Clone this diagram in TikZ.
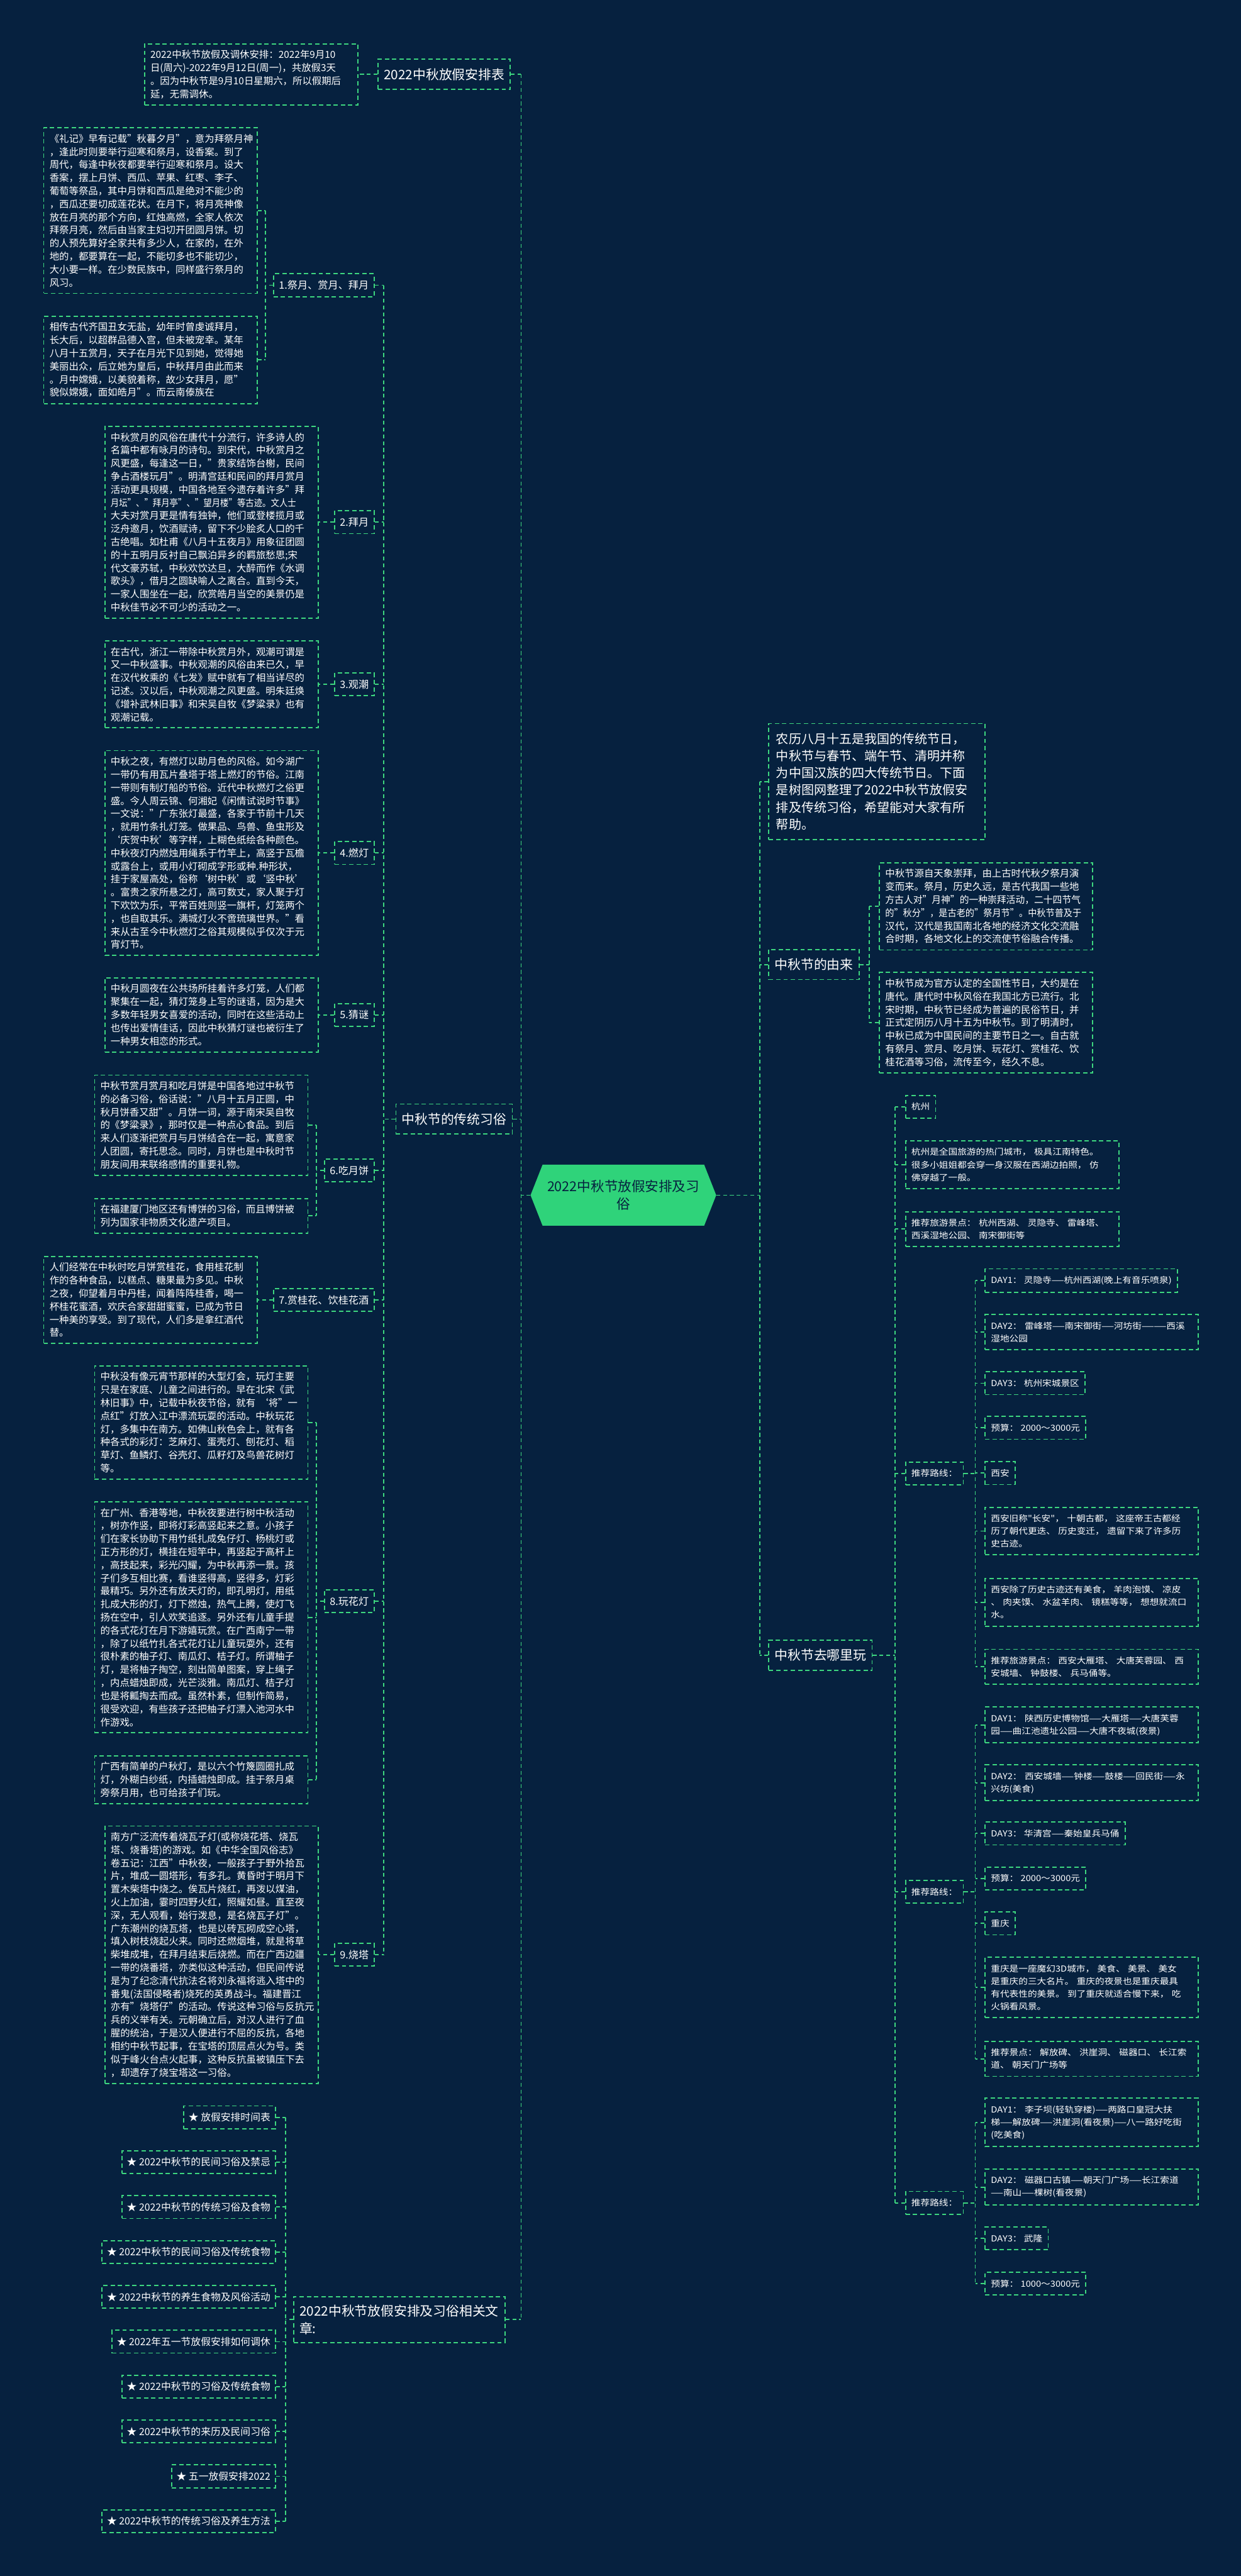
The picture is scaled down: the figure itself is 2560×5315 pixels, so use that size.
\documentclass[tikz,border=0pt]{standalone}
\usepackage{fontspec}
\usepackage{graphicx}
\setmainfont{Noto Sans CJK SC}
\newfontfamily\widecjk{Noto Sans CJK SC}[FakeStretch=1.1]
\usetikzlibrary{shapes.symbols}
\definecolor{bgc}{HTML}{06213F}
\definecolor{lg}{HTML}{3DD67F}
\definecolor{cg}{HTML}{2FD37A}
\newcommand\myfs[2]{\fontsize{#1}{#2}\selectfont}
\newcommand\dd{\scalebox{0.8}[1]{——}}
\tikzset{
  box/.style={draw=lg, line width=2.4pt, dash pattern=on 9pt off 6pt, text=white},
  txt/.style={box, font=\myfs{20}{27}, align=left, text width=416pt, inner xsep=12pt, inner ysep=13pt},
  lbl/.style={box, font=\myfs{21}{27}, inner xsep=11pt, inner ysep=0pt, minimum height=47pt},
  art/.style={box, font=\myfs{20.5}{27}, inner xsep=10pt, inner ysep=0pt, minimum height=47pt},
  hd/.style={box, font=\myfs{27}{37}, inner xsep=12pt, inner ysep=0pt, minimum height=62pt},
  intro/.style={box, font=\myfs{26}{35.4}, align=left, text width=416pt, inner xsep=15pt, inner ysep=19pt},
  rt/.style={box, font=\widecjk\myfs{17.3}{26}, align=left, inner xsep=12pt, inner ysep=15pt, minimum height=47pt},
  rtw/.style={rt, text width=416pt},
  conn/.style={draw=lg, line width=2.4pt, dash pattern=on 8pt off 6pt},
}
\begin{document}
\begin{tikzpicture}[x=1pt,y=-1pt]
\fill[bgc] (0,0) rectangle (2560,5315);
\useasboundingbox (0,0) rectangle (2560,5315);
% trunk coordinates
\coordinate (tL) at (1075,0);
\coordinate (tR) at (1567,0);
\coordinate (tT) at (792,0);
\coordinate (t1) at (548,0);
\coordinate (t6) at (653,0);
\coordinate (tA) at (589,0);
\coordinate (tY) at (1793,0);
\coordinate (tQ) at (1847,0);
\coordinate (tD) at (2012,0);

% centre
\node[signal, signal to=east and west, signal pointer angle=137, fill=cg, text=bgc,
  font=\myfs{28}{36}, align=center, minimum width=383pt, minimum height=126pt, inner sep=0pt]
  (center) at (1286,2466) {2022中秋节放假安排及习\\俗};

% ---------- left ----------
\node[hd, anchor=east] (n1) at (1054,153.5) {2022中秋放假安排表};
\node[txt, anchor=west] (b0) at (297,153.5) {2022中秋节放假及调休安排：2022年9月10\\日(周六)-2022年9月12日(周一)，共放假3天\\。因为中秋节是9月10日星期六，所以假期后\\延，无需调休。};

\node[hd, anchor=east] (n2) at (1058,2309) {中秋节的传统习俗};

\node[lbl, anchor=east] (l1) at (773,588.5) {1.祭月、赏月、拜月};
\node[txt, anchor=west] (b1) at (89,434.5) {《礼记》早有记载"秋暮夕月"，意为拜祭月神\\，逢此时则要举行迎寒和祭月，设香案。到了\\周代，每逢中秋夜都要举行迎寒和祭月。设大\\香案，摆上月饼、西瓜、苹果、红枣、李子、\\葡萄等祭品，其中月饼和西瓜是绝对不能少的\\，西瓜还要切成莲花状。在月下，将月亮神像\\放在月亮的那个方向，红烛高燃，全家人依次\\拜祭月亮，然后由当家主妇切开团圆月饼。切\\的人预先算好全家共有多少人，在家的，在外\\地的，都要算在一起，不能切多也不能切少，\\大小要一样。在少数民族中，同样盛行祭月的\\风习。};
\node[txt, anchor=west] (b2) at (89,742.5) {相传古代齐国丑女无盐，幼年时曾虔诚拜月，\\长大后，以超群品德入宫，但未被宠幸。某年\\八月十五赏月，天子在月光下见到她，觉得她\\美丽出众，后立她为皇后，中秋拜月由此而来\\。月中嫦娥，以美貌着称，故少女拜月，愿"\\貌似嫦娥，面如皓月"。而云南傣族在};

\node[lbl, anchor=east] (l2) at (773,1077.5) {2.拜月};
\node[txt, anchor=west] (b3) at (215,1077.5) {中秋赏月的风俗在唐代十分流行，许多诗人的\\名篇中都有咏月的诗句。到宋代，中秋赏月之\\风更盛，每逢这一日，"贵家结饰台榭，民间\\争占酒楼玩月"。明清宫廷和民间的拜月赏月\\活动更具规模，中国各地至今遗存着许多"拜\\\scalebox{0.87}[1]{月坛"、"拜月亭"、"望月楼"等古迹。文人士}\\大夫对赏月更是情有独钟，他们或登楼揽月或\\泛舟邀月，饮酒赋诗，留下不少脍炙人口的千\\古绝唱。如杜甫《八月十五夜月》用象征团圆\\的十五明月反衬自己飘泊异乡的羁旅愁思;宋\\代文豪苏轼，中秋欢饮达旦，大醉而作《水调\\歌头》，借月之圆缺喻人之离合。直到今天，\\一家人围坐在一起，欣赏皓月当空的美景仍是\\中秋佳节必不可少的活动之一。};

\node[lbl, anchor=east] (l3) at (773,1412) {3.观潮};
\node[txt, anchor=west] (b4) at (215,1412) {在古代，浙江一带除中秋赏月外，观潮可谓是\\又一中秋盛事。中秋观潮的风俗由来已久，早\\在汉代枚乘的《七发》赋中就有了相当详尽的\\记述。汉以后，中秋观潮之风更盛。明朱廷焕\\《增补武林旧事》和宋吴自牧《梦粱录》也有\\观潮记载。};

\node[lbl, anchor=east] (l4) at (773,1760) {4.燃灯};
\node[txt, anchor=west] (b5) at (215,1760) {中秋之夜，有燃灯以助月色的风俗。如今湖广\\一带仍有用瓦片叠塔于塔上燃灯的节俗。江南\\一带则有制灯船的节俗。近代中秋燃灯之俗更\\盛。今人周云锦、何湘妃《闲情试说时节事》\\一文说："广东张灯最盛，各家于节前十几天\\，就用竹条扎灯笼。做果品、鸟兽、鱼虫形及\\‘庆贺中秋’等字样，上糊色纸绘各种颜色。\\中秋夜灯内燃烛用绳系于竹竿上，高竖于瓦檐\\或露台上，或用小灯砌成字形或种.种形状，\\挂于家屋高处，俗称‘树中秋’或‘竖中秋’\\。富贵之家所悬之灯，高可数丈，家人聚于灯\\下欢饮为乐，平常百姓则竖一旗杆，灯笼两个\\，也自取其乐。满城灯火不啻琉璃世界。"看\\来从古至今中秋燃灯之俗其规模似乎仅次于元\\宵灯节。};

\node[lbl, anchor=east] (l5) at (773,2094) {5.猜谜};
\node[txt, anchor=west] (b6) at (215,2094) {中秋月圆夜在公共场所挂着许多灯笼，人们都\\聚集在一起，猜灯笼身上写的谜语，因为是大\\多数年轻男女喜爱的活动，同时在这些活动上\\也传出爱情佳话，因此中秋猜灯谜也被衍生了\\一种男女相恋的形式。};

\node[lbl, anchor=east] (l6) at (773,2415) {6.吃月饼};
\node[txt, anchor=west] (b7) at (194,2321.5) {中秋节赏月赏月和吃月饼是中国各地过中秋节\\的必备习俗，俗话说："八月十五月正圆，中\\秋月饼香又甜"。月饼一词，源于南宋吴自牧\\的《梦粱录》，那时仅是一种点心食品。到后\\来人们逐渐把赏月与月饼结合在一起，寓意家\\人团圆，寄托思念。同时，月饼也是中秋时节\\朋友间用来联络感情的重要礼物。};
\node[txt, anchor=west] (b8) at (194,2508.5) {在福建厦门地区还有博饼的习俗，而且博饼被\\列为国家非物质文化遗产项目。};

\node[lbl, anchor=east] (l7) at (773,2682) {7.赏桂花、饮桂花酒};
\node[txt, anchor=west] (b9) at (89,2682) {人们经常在中秋时吃月饼赏桂花，食用桂花制\\作的各种食品，以糕点、糖果最为多见。中秋\\之夜，仰望着月中丹桂，闻着阵阵桂香，喝一\\杯桂花蜜酒，欢庆合家甜甜蜜蜜，已成为节日\\一种美的享受。到了现代，人们多是拿红酒代\\替。};

\node[lbl, anchor=east] (l8) at (773,3303.5) {8.玩花灯};
\node[txt, anchor=west] (b10) at (194,2935) {中秋没有像元宵节那样的大型灯会，玩灯主要\\只是在家庭、儿童之间进行的。早在北宋《武\\林旧事》中，记载中秋夜节俗，就有~‘将"一\\点红"灯放入江中漂流玩耍的活动。中秋玩花\\灯，多集中在南方。如佛山秋色会上，就有各\\种各式的彩灯：芝麻灯、蛋壳灯、刨花灯、稻\\草灯、鱼鳞灯、谷壳灯、瓜籽灯及鸟兽花树灯\\等。};
\node[txt, anchor=west] (b11) at (194,3337) {在广州、香港等地，中秋夜要进行树中秋活动\\，树亦作竖，即将灯彩高竖起来之意。小孩子\\们在家长协助下用竹纸扎成兔仔灯、杨桃灯或\\正方形的灯，横挂在短竿中，再竖起于高杆上\\，高技起来，彩光闪耀，为中秋再添一景。孩\\子们多互相比赛，看谁竖得高，竖得多，灯彩\\最精巧。另外还有放天灯的，即孔明灯，用纸\\扎成大形的灯，灯下燃烛，热气上腾，使灯飞\\扬在空中，引人欢笑追逐。另外还有儿童手提\\的各式花灯在月下游嬉玩赏。在广西南宁一带\\，除了以纸竹扎各式花灯让儿童玩耍外，还有\\很朴素的柚子灯、南瓜灯、桔子灯。所谓柚子\\灯，是将柚子掏空，刻出简单图案，穿上绳子\\，内点蜡烛即成，光芒淡雅。南瓜灯、桔子灯\\也是将瓤掏去而成。虽然朴素，但制作简易，\\很受欢迎，有些孩子还把柚子灯漂入池河水中\\作游戏。};
\node[txt, anchor=west] (b12) at (194,3672) {广西有简单的户秋灯，是以六个竹篾圆圈扎成\\灯，外糊白纱纸，内插蜡烛即成。挂于祭月桌\\旁祭月用，也可给孩子们玩。};

\node[lbl, anchor=east] (l9) at (773,4033) {9.烧塔};
\node[txt, anchor=west] (b13) at (215,4033) {南方广泛流传着烧瓦子灯(或称烧花塔、烧瓦\\塔、烧番塔)的游戏。如《中华全国风俗志》\\卷五记：江西"中秋夜，一般孩子于野外拾瓦\\片，堆成一圆塔形，有多孔。黄昏时于明月下\\置木柴塔中烧之。俟瓦片烧红，再泼以煤油，\\火上加油，霎时四野火红，照耀如昼。直至夜\\深，无人观看，始行泼息，是名烧瓦子灯"。\\广东潮州的烧瓦塔，也是以砖瓦砌成空心塔，\\填入树枝烧起火来。同时还燃烟堆，就是将草\\柴堆成堆，在拜月结束后烧燃。而在广西边疆\\一带的烧番塔，亦类似这种活动，但民间传说\\是为了纪念清代抗法名将刘永福将逃入塔中的\\番鬼(法国侵略者)烧死的英勇战斗。福建晋江\\亦有"烧塔仔"的活动。传说这种习俗与反抗元\\兵的义举有关。元朝确立后，对汉人进行了血\\腥的统治，于是汉人便进行不屈的反抗，各地\\相约中秋节起事，在宝塔的顶层点火为号。类\\似于峰火台点火起事，这种反抗虽被镇压下去\\，却遗存了烧宝塔这一习俗。};

\node[hd, anchor=east, align=left, text width=412pt, inner ysep=16pt] (n3) at (1043,4786) {2022中秋节放假安排及习俗相关文\\章:};
\node[art, anchor=east] (a1) at (569,4368.5) {★ 放假安排时间表};
\node[art, anchor=east] (a2) at (569,4461.1) {★ 2022中秋节的民间习俗及禁忌};
\node[art, anchor=east] (a3) at (569,4553.7) {★ 2022中秋节的传统习俗及食物};
\node[art, anchor=east] (a4) at (569,4646.3) {★ 2022中秋节的民间习俗及传统食物};
\node[art, anchor=east] (a5) at (569,4738.9) {★ 2022中秋节的养生食物及风俗活动};
\node[art, anchor=east] (a6) at (569,4831.5) {★ 2022年五一节放假安排如何调休};
\node[art, anchor=east] (a7) at (569,4924.1) {★ 2022中秋节的习俗及传统食物};
\node[art, anchor=east] (a8) at (569,5016.7) {★ 2022中秋节的来历及民间习俗};
\node[art, anchor=east] (a9) at (569,5109.3) {★ 五一放假安排2022};
\node[art, anchor=east] (a10) at (569,5201.9) {★ 2022中秋节的传统习俗及养生方法};

% ---------- right ----------
\node[intro, anchor=west] (r1) at (1585,1612.5) {农历八月十五是我国的传统节日，\\中秋节与春节、端午节、清明并称\\为中国汉族的四大传统节日。下面\\是树图网整理了2022中秋节放假安\\排及传统习俗，希望能对大家有所\\帮助。};

\node[hd, anchor=west] (r2) at (1585,1990) {中秋节的由来};
\node[txt, anchor=west] (y1) at (1813,1870) {中秋节源自天象崇拜，由上古时代秋夕祭月演\\变而来。祭月，历史久远，是古代我国一些地\\\scalebox{0.96}[1]{方古人对"月神"的一种崇拜活动，二十四节气}\\\scalebox{0.92}[1]{的"秋分"，是古老的"祭月节"。中秋节普及于}\\汉代，汉代是我国南北各地的经济文化交流融\\合时期，各地文化上的交流使节俗融合传播。};
\node[txt, anchor=west] (y2) at (1813,2110) {中秋节成为官方认定的全国性节日，大约是在\\唐代。唐代时中秋风俗在我国北方已流行。北\\宋时期，中秋节已经成为普遍的民俗节日，并\\正式定阴历八月十五为中秋节。到了明清时，\\中秋已成为中国民间的主要节日之一。自古就\\有祭月、赏月、吃月饼、玩花灯、赏桂花、饮\\桂花酒等习俗，流传至今，经久不息。};

\node[hd, anchor=west] (r3) at (1585,3415) {中秋节去哪里玩};
\node[rt, anchor=west] (q1) at (1867,2283.5) {杭州};
\node[rtw, anchor=west] (q2) at (1867,2403) {杭州是全国旅游的热门城市，~极具江南特色。\\很多小姐姐都会穿一身汉服在西湖边拍照，~仿\\佛穿越了一般。};
\node[rtw, anchor=west] (q3) at (1867,2536) {推荐旅游景点：~杭州西湖、~灵隐寺、~雷峰塔、\\西溪湿地公园、~南宋御街等};
\node[rt, anchor=west] (q4) at (1867,3040) {推荐路线：};
\node[rt, anchor=west] (q5) at (1867,3903.5) {推荐路线：};
\node[rt, anchor=west] (q6) at (1867,4545) {推荐路线：};

\node[rt, anchor=west] (h1) at (2031,2642) {DAY1：~灵隐寺\dd 杭州西湖(晚上有音乐喷泉)};
\node[rtw, anchor=west] (h2) at (2031,2748.5) {DAY2：~雷峰塔\dd 南宋御街\dd 河坊街\dd\dd 西溪\\湿地公园};
\node[rt, anchor=west] (h3) at (2031,2854) {DAY3：~杭州宋城景区};
\node[rt, anchor=west] (h4) at (2031,2946) {预算：~2000～3000元};
\node[rt, anchor=west] (h5) at (2031,3039.5) {西安};
\node[rtw, anchor=west] (h6) at (2031,3159) {西安旧称"长安"，~十朝古都，~这座帝王古都经\\历了朝代更迭、~历史变迁，~遗留下来了许多历\\史古迹。};
\node[rtw, anchor=west] (h7) at (2031,3306) {西安除了历史古迹还有美食，~羊肉泡馍、~凉皮\\、~肉夹馍、~水盆羊肉、~镜糕等等，~想想就流口\\水。};
\node[rtw, anchor=west] (h8) at (2031,3439) {推荐旅游景点：~西安大雁塔、~大唐芙蓉园、~西\\安城墙、~钟鼓楼、~兵马俑等。};

\node[rtw, anchor=west] (e1) at (2031,3559) {DAY1：~陕西历史博物馆\dd 大雁塔\dd 大唐芙蓉\\园\dd 曲江池遗址公园\dd 大唐不夜城(夜景)};
\node[rtw, anchor=west] (e2) at (2031,3678.5) {DAY2：~西安城墙\dd 钟楼\dd 鼓楼\dd 回民街\dd 永\\兴坊(美食)};
\node[rt, anchor=west] (e3) at (2031,3783) {DAY3：~华清宫\dd 秦始皇兵马俑};
\node[rt, anchor=west] (e4) at (2031,3875.5) {预算：~2000～3000元};
\node[rt, anchor=west] (e5) at (2031,3968.5) {重庆};
\node[rtw, anchor=west] (e6) at (2031,4100.5) {重庆是一座魔幻3D城市，~美食、~美景、~美女\\是重庆的三大名片。~重庆的夜景也是重庆最具\\有代表性的美景。~到了重庆就适合慢下来，~吃\\火锅看风景。};
\node[rtw, anchor=west] (e7) at (2031,4248) {推荐景点：~解放碑、~洪崖洞、~磁器口、~长江索\\道、~朝天门广场等};

\node[rtw, anchor=west] (f1) at (2031,4379) {DAY1：~李子坝(轻轨穿楼)\dd 两路口皇冠大扶\\梯\dd 解放碑\dd 洪崖洞(看夜景)\dd 八一路好吃街\\(吃美食)};
\node[rtw, anchor=west] (f2) at (2031,4512.5) {DAY2：~磁器口古镇\dd 朝天门广场\dd 长江索道\\\dd 南山\dd 棵树(看夜景)};
\node[rt, anchor=west] (f3) at (2031,4618.5) {DAY3：~武隆};
\node[rt, anchor=west] (f4) at (2031,4711.5) {预算：~1000～3000元};

% ---------- connectors ----------
% main left
\draw[conn] (center.west) -- (center.west -| tL);
\foreach \n in {n1,n2,n3} \draw[conn] (\n.east) -- (\n.east -| tL);
\draw[conn] (n1.east -| tL) -- (n3.east -| tL);
\draw[conn] (n1.west) -- (b0.east);
% traditional customs
\draw[conn] (n2.west) -- (n2.west -| tT);
\foreach \n in {l1,l2,l3,l4,l5,l6,l7,l8,l9} \draw[conn] (\n.east) -- (\n.east -| tT);
\draw[conn] (l1.east -| tT) -- (l9.east -| tT);
\draw[conn] (l1.west) -- (l1.west -| t1);
\draw[conn] (b1.east) -- (b1.east -| t1);
\draw[conn] (b2.east) -- (b2.east -| t1);
\draw[conn] (b1.east -| t1) -- (b2.east -| t1);
\draw[conn] (l2.west) -- (b3.east);
\draw[conn] (l3.west) -- (b4.east);
\draw[conn] (l4.west) -- (b5.east);
\draw[conn] (l5.west) -- (b6.east);
\draw[conn] (l6.west) -- (l6.west -| t6);
\draw[conn] (b7.east) -- (b7.east -| t6);
\draw[conn] (b8.east) -- (b8.east -| t6);
\draw[conn] (b7.east -| t6) -- (b8.east -| t6);
\draw[conn] (l7.west) -- (b9.east);
\draw[conn] (l8.west) -- (l8.west -| t6);
\foreach \n in {b10,b11,b12} \draw[conn] (\n.east) -- (\n.east -| t6);
\draw[conn] (b10.east -| t6) -- (b12.east -| t6);
\draw[conn] (l9.west) -- (b13.east);
% articles
\draw[conn] (n3.west) -- (n3.west -| tA);
\foreach \n in {a1,a2,a3,a4,a5,a6,a7,a8,a9,a10} \draw[conn] (\n.east) -- (\n.east -| tA);
\draw[conn] (a1.east -| tA) -- (a10.east -| tA);
% main right
\draw[conn] (center.east) -- (center.east -| tR);
\foreach \n in {r1,r2,r3} \draw[conn] (\n.west) -- (\n.west -| tR);
\draw[conn] (r1.west -| tR) -- (r3.west -| tR);
% origin
\draw[conn] (r2.east) -- (r2.east -| tY);
\foreach \n in {y1,y2} \draw[conn] (\n.west) -- (\n.west -| tY);
\draw[conn] (y1.west -| tY) -- (y2.west -| tY);
% where to go
\draw[conn] (r3.east) -- (r3.east -| tQ);
\foreach \n in {q1,q2,q3,q4,q5,q6} \draw[conn] (\n.west) -- (\n.west -| tQ);
\draw[conn] (q1.west -| tQ) -- (q6.west -| tQ);
\foreach \p/\a/\b/\list in {q4/h1/h8/{h1,h2,h3,h4,h5,h6,h7,h8}, q5/e1/e7/{e1,e2,e3,e4,e5,e6,e7}, q6/f1/f4/{f1,f2,f3,f4}} {
  \draw[conn] (\p.east) -- (\p.east -| tD);
  \foreach \n in \list \draw[conn] (\n.west) -- (\n.west -| tD);
  \draw[conn] (\a.west -| tD) -- (\b.west -| tD);
}
\end{tikzpicture}
\end{document}
